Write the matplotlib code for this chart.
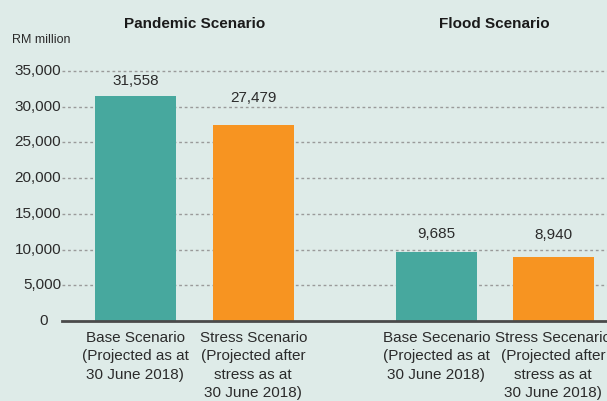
import matplotlib
matplotlib.use("Agg")
import matplotlib.pyplot as plt
from matplotlib.transforms import offset_copy

# ---- data ----
scenarios = ["Pandemic Scenario", "Flood Scenario"]
categories = [
    "Base Scenario\n(Projected as at\n30 June 2018)",
    "Stress Scenario\n(Projected after\nstress as at\n30 June 2018)",
    "Base Secenario\n(Projected as at\n30 June 2018)",
    "Stress Secenario\n(Projected after\nstress as at\n30 June 2018)",
]
values = [31558, 27479, 9685, 8940]
value_labels = ["31,558", "27,479", "9,685", "8,940"]
yticks = [0, 5000, 10000, 15000, 20000, 25000, 30000, 35000]
ytick_labels = ["0", "5,000", "10,000", "15,000", "20,000", "25,000", "30,000", "35,000"]
y_unit = "RM million"

# ---- layout / style ----
positions = [0, 1, 2.553, 3.545]
label_gaps_px = [15, 27, 18, 22]
bar_colors = ["#47a89e", "#f79421", "#47a89e", "#f79421"]
bg = "#deebe8"
txt = "#2b2b2b"
plt.rcParams["font.family"] = ["Liberation Sans", "DejaVu Sans"]

W, H = 607, 401
fig = plt.figure(figsize=(W / 100, H / 100), dpi=100, facecolor=bg)
ax_left, ax_bottom_px, ax_top_px = 62, 321, 40
ax = fig.add_axes([ax_left / W, (H - ax_bottom_px) / H, 1 - ax_left / W,
                   (ax_bottom_px - ax_top_px) / H])
ax.set_facecolor(bg)
ymax = (ax_bottom_px - ax_top_px) / 250 * 35000
ax.set_ylim(0, ymax)
ax.set_xlim((62 - 135.3) / 117.9, (607 - 135.3) / 117.9)

bars = ax.bar(positions, values, width=0.685, color=bar_colors, zorder=3)
for b, lab, gap in zip(bars, value_labels, label_gaps_px):
    ax.annotate(lab, (b.get_x() + b.get_width() / 2, b.get_height()),
                xytext=(0, gap * 0.72), textcoords="offset points", ha="center",
                va="center", fontsize=11, color=txt)

# grid
for y in yticks[1:]:
    ax.axhline(y, color="#9a9a9a", lw=1.0, ls=(0, (2, 2)), zorder=1)
ax.axhline(0, color="#4a4a4a", lw=2, zorder=4, clip_on=False)

# y tick labels
ytr = ax.get_yaxis_transform()
for y, lab in zip(yticks, ytick_labels):
    dx = -14 if y == 0 else -1
    ax.text(0, y, lab, transform=offset_copy(ytr, fig=fig, x=dx, units="dots"),
            ha="right", va="center", fontsize=11, color=txt)

ax.set_xticks(positions)
ax.set_xticklabels(categories, fontsize=11, color=txt, linespacing=1.4)
ax.tick_params(axis="x", length=0, pad=7)
ax.set_yticks([])
for s in ax.spines.values():
    s.set_visible(False)

# titles
fig.text(12 / W, 1 - 40 / H, y_unit, fontsize=9, color=txt, ha="left", va="center")
xt = ax.get_xaxis_transform()
for xc, title in [((positions[0] + positions[1]) / 2, scenarios[0]),
                  ((positions[2] + positions[3]) / 2, scenarios[1])]:
    ax.text(xc, 0, title,
            transform=offset_copy(xt, fig=fig, x=0, y=ax_bottom_px - 24, units="dots"),
            ha="center", va="center", fontsize=11, fontweight="bold", color="#1a1a1a")

fig.savefig("out.png", dpi=100, facecolor=bg)
